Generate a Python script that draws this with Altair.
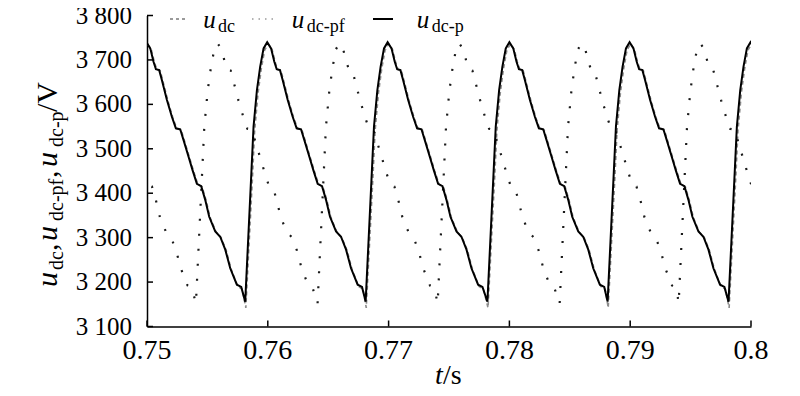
import altair as alt
import pandas as pd

SERIF = "Liberation Serif"

# ---- data -----------------------------------------------------------------
# one cycle of each waveform: time after the cycle's trough (ms) and voltage (V)
P_DT = [0.0, 0.52, 0.69, 0.97, 1.24, 1.52, 1.82, 2.14, 2.41, 2.61, 2.88, 3.10, 3.52, 3.93,
        4.26, 4.62, 4.89, 5.31, 5.64, 6.00, 6.36, 6.69, 7.02, 7.52, 7.93, 8.35, 8.76, 9.31, 9.67]
P_V = [3156, 3452, 3550, 3632, 3685, 3726, 3740, 3726, 3696, 3679, 3677, 3655, 3610, 3572,
       3546, 3544, 3520, 3482, 3452, 3421, 3416, 3385, 3347, 3314, 3302, 3273, 3231, 3194, 3189]

DC_DT = [0.0, 0.56, 0.73, 1.01, 1.28, 1.56, 1.86, 2.17, 2.44, 2.64, 2.91, 3.13, 3.55, 3.96,
         4.29, 4.65, 4.92, 5.34, 5.67, 6.03, 6.39, 6.72, 7.05, 7.55, 7.96, 8.38, 8.79, 9.34, 9.70]
DC_V = [3142, 3440, 3540, 3625, 3680, 3722, 3736, 3724, 3694, 3678, 3676, 3653, 3608, 3570,
        3545, 3542, 3518, 3480, 3450, 3420, 3414, 3383, 3345, 3312, 3300, 3271, 3229, 3190, 3184]

PF_DT = [0.0, 0.52, 0.69, 0.97, 1.24, 1.52, 1.80, 2.12, 2.40, 2.60, 2.88, 3.10, 3.52, 3.93,
         4.26, 4.62, 4.89, 5.31, 5.64, 6.00, 6.36, 6.69, 7.02, 7.52, 7.93, 8.35, 8.76, 9.31, 9.67]
PF_V = [3152, 3450, 3548, 3630, 3683, 3724, 3737, 3724, 3694, 3678, 3676, 3653, 3609, 3571,
        3545, 3543, 3519, 3481, 3451, 3420, 3415, 3384, 3346, 3313, 3301, 3272, 3230, 3192, 3186]

# trough instants (s) of each cycle
P_TROUGHS = [0.74813, 0.75813, 0.76810, 0.77818, 0.78813, 0.79814]
DC_TROUGHS = [0.74818, 0.75818, 0.76815, 0.77823, 0.78818, 0.79819]
PF_TROUGHS = [0.74405, 0.75405, 0.76412, 0.77406, 0.78416, 0.79401]

X_TICKS = [0.75, 0.76, 0.77, 0.78, 0.79, 0.8]
X_LABELS = ["0.75", "0.76", "0.77", "0.78", "0.79", "0.8"]
Y_TICKS = [3100, 3200, 3300, 3400, 3500, 3600, 3700, 3800]
Y_LABELS = ["3 100", "3 200", "3 300", "3 400", "3 500", "3 600", "3 700", "3 800"]


def build(troughs, dts, vs):
    rows = []
    for t0 in troughs:
        for dt, v in zip(dts, vs):
            rows.append({"t": t0 + dt / 1000.0, "v": v})
    return pd.DataFrame(rows)


df_p = build(P_TROUGHS, P_DT, P_V)
df_dc = build(DC_TROUGHS, DC_DT, DC_V)
df_pf = build(PF_TROUGHS, PF_DT, PF_V)
df_xt = pd.DataFrame({"t": X_TICKS, "lab": X_LABELS})
df_yt = pd.DataFrame({"v": Y_TICKS, "lab": Y_LABELS})

# ---- layout ------------------------------------------------------------------
W, H = 604, 311
xs = alt.Scale(domain=[0.75, 0.8], nice=False, zero=False)
ys = alt.Scale(domain=[3100, 3800], nice=False, zero=False)

xaxis = alt.Axis(values=X_TICKS, title=None, grid=False, ticks=False, tickSize=0,
                 labels=False, domainColor="black", domainWidth=1.5)
yaxis = alt.Axis(values=Y_TICKS, title=None, grid=False, ticks=False, tickSize=0,
                 labels=False, domainColor="black", domainWidth=1.5)


def X(field):
    return alt.X(f"{field}:Q", scale=xs, axis=xaxis)


def Y(field):
    return alt.Y(f"{field}:Q", scale=ys, axis=yaxis)


dummy = pd.DataFrame({"k": [0]})


def txt(s, x, y, size, italic=False, angle=0):
    kw = dict(text=s, font=SERIF, fontSize=size, align="left", baseline="alphabetic",
              color="black")
    if italic:
        kw["fontStyle"] = "italic"
    if angle:
        kw["angle"] = angle
    return alt.Chart(dummy).mark_text(**kw).encode(x=alt.value(x), y=alt.value(y))


def sample(x1, x2, y, color, dash=None, width=1.5):
    kw = dict(color=color, strokeWidth=width)
    if dash:
        kw["strokeDash"] = dash
    return alt.Chart(dummy).mark_rule(**kw).encode(
        x=alt.value(x1), x2=alt.value(x2), y=alt.value(y))


dc_line = alt.Chart(df_dc).mark_line(color="#8c8c8c", strokeDash=[4, 3], strokeWidth=1.6,
                                     clip=True).encode(x=X("t"), y=Y("v"))
pf_line = alt.Chart(df_pf).mark_line(color="#1a1a1a", strokeDash=[2, 13], strokeWidth=2.2,
                                     clip=True).encode(x=X("t"), y=Y("v"))
p_line = alt.Chart(df_p).mark_line(color="black", strokeWidth=2, clip=True).encode(
    x=X("t"), y=Y("v"))

xt = alt.Chart(df_xt).mark_rule(color="black", strokeWidth=1.5).encode(
    x=X("t"), y=alt.value(H), y2=alt.value(H - 6))
yt = alt.Chart(df_yt).mark_rule(color="black", strokeWidth=1.5).encode(
    y=Y("v"), x=alt.value(0), x2=alt.value(6))

xlab = alt.Chart(df_xt).mark_text(font=SERIF, fontSize=28, align="center",
                                  baseline="alphabetic", color="black").encode(
    x=X("t"), y=alt.value(H + 32.5), text="lab:N")
ylab = alt.Chart(df_yt).mark_text(font=SERIF, fontSize=25, align="right",
                                  baseline="alphabetic", dy=8, color="black").encode(
    y=Y("v"), x=alt.value(-15), text="lab:N")

legend = [
    sample(23, 40, 3.5, "#7a7a7a", [3, 3]),
    txt("u", 56.3, 12, 25, italic=True),
    txt("dc", 71, 16.5, 18),
    sample(105, 126, 3.5, "#9a9a9a", [1.5, 5]),
    txt("u", 144.7, 12, 25, italic=True),
    txt("dc-pf", 159.7, 16.5, 18),
    sample(226, 246, 3.5, "black", None, 2),
    txt("u", 269.7, 12, 25, italic=True),
    txt("dc-p", 284.7, 16.5, 18),
]

ytitle = [
    txt("u", -90, 271.5, 30, italic=True, angle=270),
    txt("dc", -84, 254.5, 20, angle=270),
    txt(",", -90, 235.5, 30, angle=270),
    txt("u", -90, 225.5, 30, italic=True, angle=270),
    txt("dc-pf", -84, 205.5, 20, angle=270),
    txt(",", -90, 162.5, 30, angle=270),
    txt("u", -90, 151.5, 30, italic=True, angle=270),
    txt("dc-p", -84, 131.5, 20, angle=270),
    txt("/V", -90, 96.5, 30, angle=270),
]

xtitle = [
    txt("t", 288, 368.5, 28, italic=True),
    txt("/s", 296, 368.5, 28),
]

chart = alt.layer(dc_line, pf_line, p_line, xt, yt, xlab, ylab,
                  *legend, *ytitle, *xtitle).properties(
    width=W, height=H,
    padding={"left": 139, "top": 7.5, "right": 30, "bottom": 58},
    autosize=alt.AutoSizeParams(type="none"),
).configure(font=SERIF).configure_view(stroke=None)

chart.save("out.html", embed_options={"renderer": "svg", "actions": False})
